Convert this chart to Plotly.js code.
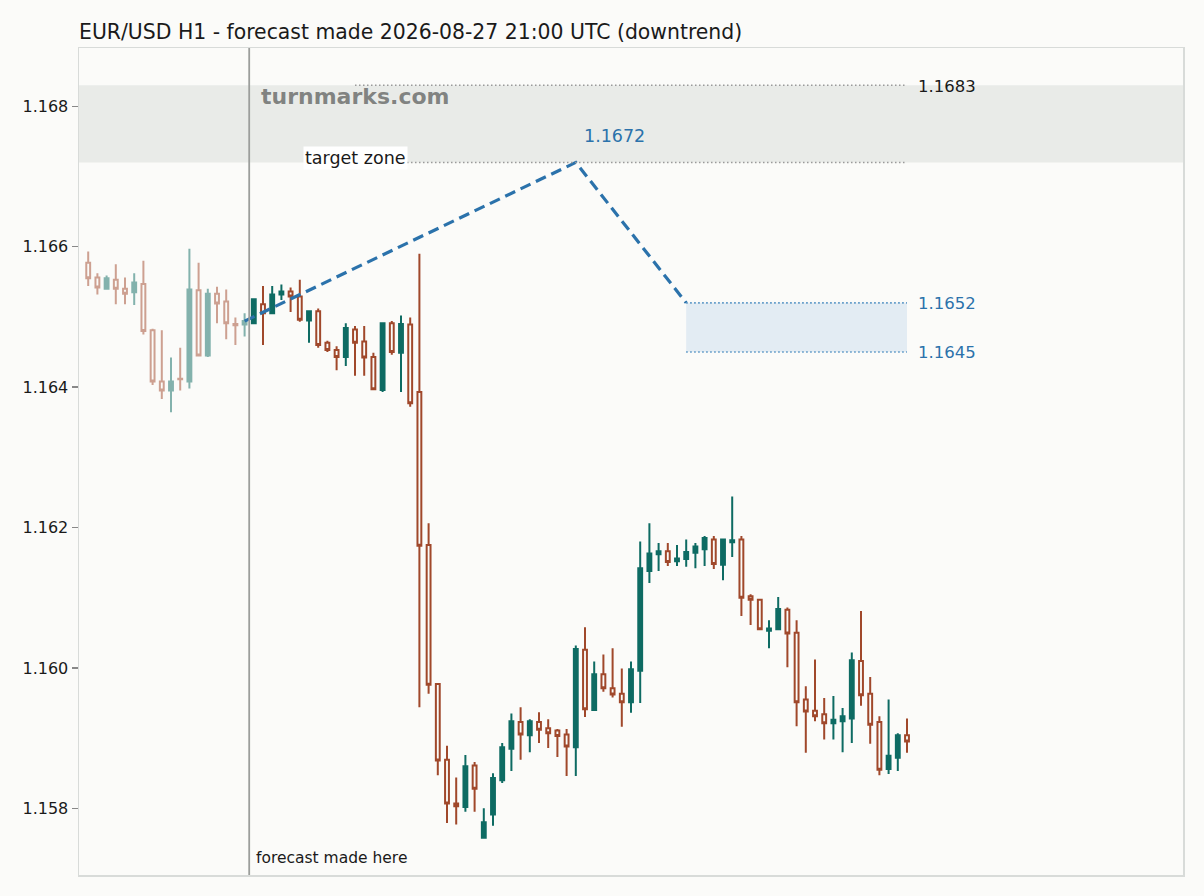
<!DOCTYPE html>
<html>
<head>
<meta charset="utf-8">
<script src="https://cdn.plot.ly/plotly-3.0.1.min.js"></script>
<style>
  html, body { margin: 0; padding: 0; background: #fbfbf9; }
  #plot { width: 1204px; height: 896px; }
</style>
</head>
<body>
<div id="plot"></div>
<script>
// hourly candles, first one opens 2026-08-27 03:00 (drawn at the middle of the hour)
var openPrices = [
  1.16577, 1.16556, 1.16540, 1.16553, 1.16540, 1.16535, 1.16547, 1.16481, 1.16408, 1.16395,
  1.16412, 1.16408, 1.16538, 1.16445, 1.16533, 1.16522, 1.16490, 1.16489, 1.16491, 1.16518,
  1.16505, 1.16532, 1.16536, 1.16529, 1.16495, 1.16508, 1.16463, 1.16453, 1.16443, 1.16482,
  1.16465, 1.16443, 1.16396, 1.16491, 1.16449, 1.16489, 1.16393, 1.16175, 1.15977, 1.15869,
  1.15807, 1.15802, 1.15861, 1.15758, 1.15791, 1.15840, 1.15885, 1.15923, 1.15904, 1.15923,
  1.15914, 1.15911, 1.15905, 1.15887, 1.16026, 1.15940, 1.15991, 1.15971, 1.15963, 1.15951,
  1.15996, 1.16138, 1.16162, 1.16166, 1.16152, 1.16155, 1.16164, 1.16169, 1.16183, 1.16147,
  1.16179, 1.16183, 1.16102, 1.16097, 1.16053, 1.16055, 1.16083, 1.16050, 1.15955, 1.15939,
  1.15934, 1.15921, 1.15924, 1.15928, 1.16010, 1.15963, 1.15923, 1.15856, 1.15872, 1.15904
];
var highPrices = [
  1.16593, 1.16562, 1.16559, 1.16575, 1.16556, 1.16562, 1.16580, 1.16483, 1.16481, 1.16442,
  1.16456, 1.16597, 1.16577, 1.16540, 1.16543, 1.16539, 1.16499, 1.16505, 1.16525, 1.16544,
  1.16544, 1.16546, 1.16542, 1.16553, 1.16508, 1.16512, 1.16466, 1.16458, 1.16491, 1.16487,
  1.16487, 1.16449, 1.16491, 1.16494, 1.16502, 1.16499, 1.16590, 1.16206, 1.15977, 1.15889,
  1.15844, 1.15876, 1.15866, 1.15800, 1.15850, 1.15893, 1.15935, 1.15944, 1.15927, 1.15937,
  1.15927, 1.15913, 1.15913, 1.16032, 1.16058, 1.16009, 1.16019, 1.16028, 1.15999, 1.16009,
  1.16180, 1.16206, 1.16178, 1.16178, 1.16175, 1.16183, 1.16178, 1.16188, 1.16188, 1.16183,
  1.16244, 1.16188, 1.16105, 1.16097, 1.16068, 1.16101, 1.16086, 1.16068, 1.15974, 1.16012,
  1.15957, 1.15960, 1.15943, 1.16022, 1.16081, 1.15987, 1.15931, 1.15955, 1.15907, 1.15928
];
var lowPrices = [
  1.16544, 1.16532, 1.16539, 1.16518, 1.16518, 1.16517, 1.16475, 1.16403, 1.16383, 1.16364,
  1.16395, 1.16398, 1.16445, 1.16443, 1.16491, 1.16468, 1.16460, 1.16472, 1.16490, 1.16460,
  1.16505, 1.16524, 1.16507, 1.16493, 1.16463, 1.16456, 1.16450, 1.16424, 1.16430, 1.16416,
  1.16416, 1.16396, 1.16393, 1.16446, 1.16393, 1.16372, 1.15944, 1.15963, 1.15847, 1.15779,
  1.15777, 1.15795, 1.15795, 1.15758, 1.15775, 1.15836, 1.15853, 1.15869, 1.15880, 1.15893,
  1.15886, 1.15873, 1.15846, 1.15846, 1.15930, 1.15940, 1.15966, 1.15958, 1.15916, 1.15936,
  1.15950, 1.16121, 1.16138, 1.16145, 1.16145, 1.16144, 1.16142, 1.16145, 1.16141, 1.16125,
  1.16158, 1.16074, 1.16061, 1.16055, 1.16028, 1.16055, 1.16001, 1.15917, 1.15879, 1.15924,
  1.15898, 1.15898, 1.15880, 1.15893, 1.15946, 1.15892, 1.15847, 1.15849, 1.15853, 1.15879
];
var closePrices = [
  1.16555, 1.16542, 1.16555, 1.16540, 1.16533, 1.16549, 1.16480, 1.16408, 1.16395, 1.16408,
  1.16411, 1.16539, 1.16445, 1.16533, 1.16519, 1.16491, 1.16488, 1.16494, 1.16525, 1.16505,
  1.16532, 1.16536, 1.16529, 1.16496, 1.16508, 1.16460, 1.16453, 1.16443, 1.16484, 1.16463,
  1.16442, 1.16397, 1.16491, 1.16450, 1.16490, 1.16377, 1.16174, 1.15976, 1.15868, 1.15807,
  1.15803, 1.15860, 1.15828, 1.15780, 1.15843, 1.15887, 1.15924, 1.15905, 1.15924, 1.15912,
  1.15907, 1.15903, 1.15888, 1.16027, 1.15941, 1.15991, 1.15971, 1.15962, 1.15951, 1.15998,
  1.16142, 1.16163, 1.16166, 1.16151, 1.16156, 1.16165, 1.16173, 1.16185, 1.16148, 1.16183,
  1.16182, 1.16100, 1.16097, 1.16055, 1.16056, 1.16084, 1.16049, 1.15951, 1.15938, 1.15931,
  1.15921, 1.15926, 1.15931, 1.16011, 1.15961, 1.15919, 1.15855, 1.15875, 1.15904, 1.15895
];
var historyCount = 18; // candles known when the forecast was made

var forecastTime = '2026-08-27 21:00';
var forecastPathTimes = ['2026-08-27 20:30', '2026-08-29 08:30', '2026-08-29 20:30'];
var forecastPathValues = [1.16494, 1.1672, 1.1652];
var peakLabel = '1.1672';

var zoneBandLow = 1.1672, zoneBandHigh = 1.1683;
var zoneLineStart = '2026-08-28 08:30';
var targetLow = 1.1645, targetHigh = 1.1652;
var targetStart = '2026-08-29 20:30';
var zoneEnd = '2026-08-30 20:30';

var startMs = Date.UTC(2026, 7, 27, 3, 30);
function hourStamp(i) {
  return new Date(startMs + i * 3600000).toISOString().slice(0, 16).replace('T', ' ');
}
var times = openPrices.map(function (_, i) { return hourStamp(i); });

var teal = '#0e6b63';
var brown = '#a0482b';
var blue = '#2b72ab';
var bg = '#fbfbf9';
var font = 'DejaVu Sans, sans-serif';

function candles(from, to, opacity) {
  return {
    type: 'candlestick',
    x: times.slice(from, to),
    open: openPrices.slice(from, to),
    high: highPrices.slice(from, to),
    low: lowPrices.slice(from, to),
    close: closePrices.slice(from, to),
    opacity: opacity,
    increasing: { line: { color: teal, width: 2 }, fillcolor: teal },
    decreasing: { line: { color: brown, width: 2 }, fillcolor: 'rgba(0,0,0,0)' },
    whiskerwidth: 0,
    showlegend: false,
    hoverinfo: 'skip'
  };
}

var forecastTrace = {
  type: 'scatter',
  mode: 'lines',
  x: forecastPathTimes,
  y: forecastPathValues,
  line: { color: blue, width: 3.2, dash: '11px,6px' },
  showlegend: false,
  hoverinfo: 'skip'
};

var data = [candles(0, historyCount, 0.5), candles(historyCount, openPrices.length, 1), forecastTrace];

var dotted = '1.5px,2.5px';
var shapes = [
  { type: 'rect', layer: 'below', xref: 'paper', x0: 0, x1: 1, yref: 'y', y0: zoneBandLow, y1: zoneBandHigh,
    fillcolor: '#e9ebe8', line: { width: 0 } },
  { type: 'line', xref: 'x', x0: zoneLineStart, x1: zoneEnd, yref: 'y', y0: zoneBandHigh, y1: zoneBandHigh,
    line: { color: '#9a9a9a', width: 1.6, dash: dotted } },
  { type: 'line', xref: 'x', x0: zoneLineStart, x1: zoneEnd, yref: 'y', y0: zoneBandLow, y1: zoneBandLow,
    line: { color: '#9a9a9a', width: 1.6, dash: dotted } },
  { type: 'rect', layer: 'below', xref: 'x', x0: targetStart, x1: zoneEnd, yref: 'y', y0: targetLow, y1: targetHigh,
    fillcolor: '#e3ecf3', line: { width: 0 } },
  { type: 'line', xref: 'x', x0: targetStart, x1: zoneEnd, yref: 'y', y0: targetHigh, y1: targetHigh,
    line: { color: '#4a8cc0', width: 1.6, dash: dotted } },
  { type: 'line', xref: 'x', x0: targetStart, x1: zoneEnd, yref: 'y', y0: targetLow, y1: targetLow,
    line: { color: '#4a8cc0', width: 1.6, dash: dotted } },
  { type: 'line', xref: 'x', x0: forecastTime, x1: forecastTime, yref: 'paper', y0: 0, y1: 1,
    line: { color: '#9c9e9c', width: 1.8 } }
];

var annotations = [
  { xref: 'paper', yref: 'paper', x: 0.163, y: 0.941, xanchor: 'left', yanchor: 'middle', showarrow: false,
    text: '<b>turnmarks.com</b>', font: { family: font, size: 22, color: 'rgba(110,112,110,0.85)' } },
  { xref: 'x', yref: 'y', x: zoneLineStart, y: zoneBandLow, xanchor: 'center', yanchor: 'middle', yshift: 4,
    showarrow: false, text: 'target zone', bgcolor: '#ffffff', borderpad: 1,
    font: { family: font, size: 17.5, color: '#1a1a1a' } },
  { xref: 'x', yref: 'y', x: forecastPathTimes[1], y: forecastPathValues[1], xanchor: 'left', yanchor: 'middle',
    xshift: 6, yshift: 26, showarrow: false, text: peakLabel, font: { family: font, size: 17.5, color: blue } },
  { xref: 'x', yref: 'y', x: zoneEnd, y: zoneBandHigh, xanchor: 'left', yanchor: 'middle', xshift: 9, yshift: -1,
    showarrow: false, text: zoneBandHigh.toFixed(4), font: { family: font, size: 16.5, color: '#1a1a1a' } },
  { xref: 'x', yref: 'y', x: zoneEnd, y: targetHigh, xanchor: 'left', yanchor: 'middle', xshift: 9, yshift: -1,
    showarrow: false, text: targetHigh.toFixed(4), font: { family: font, size: 16.5, color: blue } },
  { xref: 'x', yref: 'y', x: zoneEnd, y: targetLow, xanchor: 'left', yanchor: 'middle', xshift: 9, yshift: -1,
    showarrow: false, text: targetLow.toFixed(4), font: { family: font, size: 16.5, color: blue } },
  { xref: 'x', yref: 'paper', x: forecastTime, y: 0.021, xanchor: 'left', yanchor: 'middle', xshift: 5,
    showarrow: false, text: 'forecast made here', font: { family: font, size: 15.5, color: '#1a1a1a' } }
];

var layout = {
  width: 1204,
  height: 896,
  paper_bgcolor: bg,
  plot_bgcolor: bg,
  margin: { l: 79, r: 21, t: 48, b: 21 },
  boxgap: 0.4,
  title: {
    text: 'EUR/USD H1 - forecast made 2026-08-27 21:00 UTC (downtrend)',
    xref: 'paper', x: 0, xanchor: 'left',
    yref: 'container', y: 0.964, yanchor: 'middle',
    font: { family: font, size: 20.4, color: '#1a1a1a' }
  },
  xaxis: {
    type: 'date',
    range: [hourStamp(-1), hourStamp(119)],
    rangeslider: { visible: false },
    showticklabels: false,
    ticks: '',
    showgrid: false,
    zeroline: false,
    showline: true,
    mirror: true,
    linecolor: '#d8dbd9',
    linewidth: 1.5
  },
  yaxis: {
    range: [1.15705, 1.16883],
    tick0: 1.158,
    dtick: 0.002,
    tickformat: '.3f',
    ticks: 'outside',
    ticklen: 6,
    tickwidth: 1.3,
    tickcolor: '#888888',
    tickfont: { family: font, size: 16, color: '#1a1a1a' },
    showgrid: false,
    zeroline: false,
    showline: true,
    mirror: true,
    linecolor: '#d8dbd9',
    linewidth: 1.5
  },
  shapes: shapes,
  annotations: annotations,
  hovermode: false
};

Plotly.newPlot('plot', data, layout, { displayModeBar: false, staticPlot: true });
</script>
</body>
</html>
